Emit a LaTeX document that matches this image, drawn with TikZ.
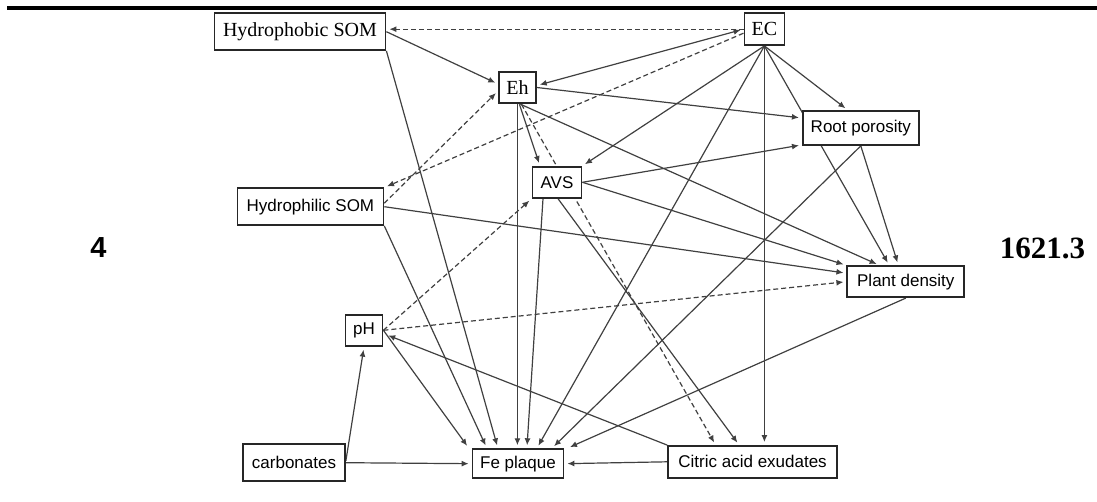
\documentclass[tikz,border=0pt]{standalone}
\usepackage{fontspec}
\setmainfont{Liberation Serif}
\setsansfont{Liberation Sans}
\usetikzlibrary{arrows.meta, calc, backgrounds}

\begin{document}
\begin{tikzpicture}[x=0.5pt, y=-0.5pt, >={Latex[length=3.5pt,width=3pt]},
  box/.style={draw=black!85, line width=0.9pt, fill=white, inner sep=0pt, font=\fontsize{8.5}{10}\sffamily},
  sbox/.style={box, font=\fontsize{10}{12}\rmfamily},
  link/.style={->, draw=black!75, line width=0.6pt, shorten >=1.5pt},
  dlink/.style={link, dash pattern=on 2.5pt off 1.5pt}]
  \useasboundingbox (0,0) rectangle (1097,502);
  \fill (7,6) rectangle (1097,10);

  \node[sbox, minimum width=85.5pt, minimum height=18.3pt] (hphob) at (300,31.7) {Hydrophobic SOM};
  \node[sbox, minimum width=20pt, minimum height=15.8pt] (ec) at (764.4,29.2) {EC};
  \node[sbox, minimum width=18.5pt, minimum height=15.8pt] (eh) at (517.4,87.5) {Eh};
  \node[box, minimum width=24.5pt, minimum height=15.5pt] (avs) at (557,182.3) {AVS};
  \node[box, minimum width=58pt, minimum height=17pt] (root) at (860.8,128) {Root porosity};
  \node[box, minimum width=73pt, minimum height=18.3pt] (hphil) at (310.4,206.7) {Hydrophilic SOM};
  \node[box, minimum width=58.5pt, minimum height=15.5pt] (plant) at (905.8,281.7) {Plant density};
  \node[box, minimum width=18.5pt, minimum height=15.5pt] (ph) at (364,330.3) {pH};
  \node[box, minimum width=51pt, minimum height=18.5pt] (carb) at (294,462.7) {carbonates};
  \node[box, minimum width=45.5pt, minimum height=14.5pt] (fe) at (518,463.7) {Fe plaque};
  \node[box, minimum width=84.5pt, minimum height=15.8pt] (citric) at (752.6,461.8) {Citric acid exudates};

  \node[font=\fontsize{14.5}{16}\sffamily\bfseries] (rowno) at (98.5,248) {4};
  \node[font=\fontsize{15.5}{17}\rmfamily\bfseries] (rowval) at (1042.5,248) {1621.3};

  \begin{scope}[on background layer]
    % dashed paths
    \draw[dlink] (ec.west) -- (ec.west -| hphob.east);
    \draw[dlink] ($(ec.west)+(0,4)$) -- (hphil.north east);
    \draw[dlink] ($(hphil.east)+(0,-3.5)$) -- ($(eh.west)+(0,3.5)$);
    \draw[dlink] (ph.east) -- (avs.south west);
    \draw[dlink] (ph.east) -- (plant.west);
    \draw[dlink] ($(eh.south)+(4,0)$) -- ($(citric.north west)+(48.5,0)$);
    % solid paths
    \draw[link] (hphob.east) -- ($(eh.west)+(0,-3.5)$);
    \draw[link] (hphob.south east) -- ($(fe.north west)+(26.3,0)$);
    \draw[link] (hphil.east) -- ($(plant.west)+(0,-8.5)$);
    \draw[link] (hphil.south east) -- ($(fe.north west)+(15.3,0)$);
    \draw[link, <->, shorten <=1.5pt] (ec.west) -- ($(eh.east)+(0,-2)$);
    \draw[link] (ec.south) -- (avs.north east);
    \draw[link] (ec.south) -- ($(fe.north west)+(65.3,0)$);
    \draw[link] (ec.south) -- (ec.south |- citric.north);
    \draw[link] (ec.south) -- ($(root.north)+(-13,0)$);
    \draw[link] (ec.south) -- ($(plant.north west)+(42.8,0)$);
    \draw[link] ($(eh.south)+(2,0)$) -- ($(avs.north)+(-17,0)$);
    \draw[link] (eh.south) -- (eh.south |- fe.north);
    \draw[link] (eh.east) -- ($(root.west)+(0,-10)$);
    \draw[link] ($(eh.south)+(3,0)$) -- ($(plant.north west)+(33,0)$);
    \draw[link] (avs.east) -- ($(root.south west)+(0,-1)$);
    \draw[link] (avs.east) -- (plant.north west);
    \draw[link] ($(avs.south)+(-14,0)$) -- ($(fe.north west)+(55.3,0)$);
    \draw[link] ($(avs.south)+(1,0)$) -- ($(citric.north west)+(72,0)$);
    \draw[link] (root.south) -- ($(plant.north west)+(52,0)$);
    \draw[link] (root.south) -- ($(fe.north west)+(80.3,0)$);
    \draw[link] (plant.south) -- ($(fe.north west)+(95.6,0)$);
    \draw[link] (citric.north west) -- ($(ph.east)+(2,4)$);
    \draw[link] (citric.west) -- (fe.east);
    \draw[link] ($(carb.east)+(0,-2)$) -- (ph.south);
    \draw[link] (carb.east) -- (fe.west);
    \draw[link] (ph.east) -- ($(fe.north west)+(-2.7,0)$);
  \end{scope}
\end{tikzpicture}
\end{document}
